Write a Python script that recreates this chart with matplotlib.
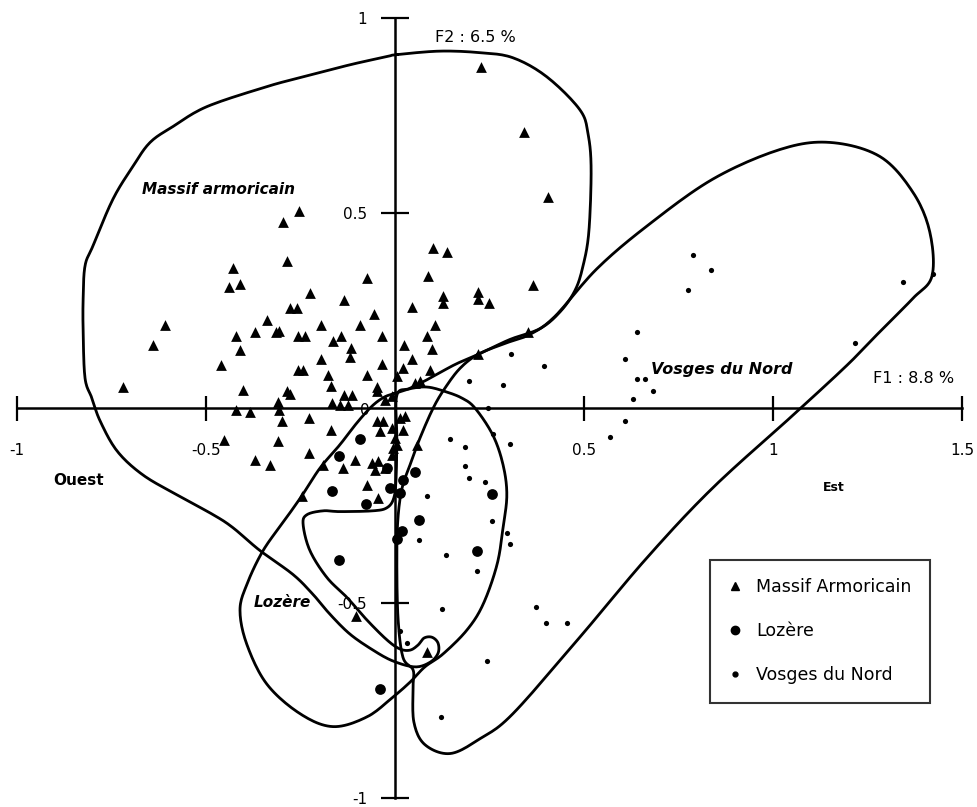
import numpy as np
import matplotlib
matplotlib.use("Agg")
import matplotlib.pyplot as plt
from matplotlib.lines import Line2D

# --- factor scores (F1, F2) ---
massif_x = [0.228, 0.341, 0.405, 0.365, 0.249, 0.220, 0.220, 0.352, 0.220, 0.101,
            0.138, 0.087, 0.127, 0.127, 0.045, 0.106, 0.085, 0.024, 0.098, 0.045,
            0.021, 0.093, 0.053, 0.066, 0.005, -0.074, -0.225, -0.135, -0.278, -0.259,
            -0.056, -0.196, -0.093, -0.034, -0.257, -0.238, -0.164, -0.143, -0.116, -0.119,
            -0.196, -0.034, -0.257, -0.243, -0.177, -0.074, -0.169, -0.048, -0.135, -0.114,
            -0.254, -0.296, -0.286, -0.429, -0.439, -0.410, -0.608, -0.339, -0.370, -0.421,
            -0.315, -0.307, -0.640, -0.410, -0.460, -0.720, -0.402, -0.286, -0.278, -0.310,
            -0.421, -0.384, -0.307, -0.299, -0.228, -0.167, -0.146, -0.124, -0.048, -0.452,
            -0.310, -0.370, -0.331, -0.228, -0.169, -0.246, -0.190, -0.138, -0.106, -0.074,
            -0.045, 0.021, -0.008, -0.040, -0.048, -0.032, -0.061, -0.045, -0.053, -0.005,
            0.005, -0.008, -0.026, 0.000, 0.026, 0.013, 0.058, -0.103, 0.085, -0.008,
            -0.026]
massif_y = [0.875, 0.707, 0.541, 0.316, 0.270, 0.298, 0.281, 0.196, 0.138, 0.411,
            0.401, 0.339, 0.288, 0.270, 0.260, 0.212, 0.184, 0.163, 0.151, 0.125,
            0.102, 0.097, 0.064, 0.069, 0.082, 0.334, 0.296, 0.276, 0.258, 0.258,
            0.242, 0.214, 0.214, 0.184, 0.186, 0.186, 0.173, 0.184, 0.153, 0.130,
            0.125, 0.112, 0.097, 0.097, 0.084, 0.084, 0.056, 0.054, 0.033, 0.033,
            0.505, 0.477, 0.378, 0.360, 0.311, 0.319, 0.212, 0.227, 0.196, 0.186,
            0.194, 0.199, 0.161, 0.148, 0.110, 0.054, 0.046, 0.043, 0.036, 0.015,
            -0.005, -0.010, -0.005, -0.033, -0.026, 0.013, 0.008, 0.008, 0.043, -0.082,
            -0.084, -0.133, -0.145, -0.115, -0.056, -0.224, -0.145, -0.153, -0.133, -0.196,
            -0.230, -0.056, -0.051, -0.059, -0.033, -0.033, -0.140, -0.135, -0.158, -0.102,
            -0.094, -0.120, -0.153, -0.077, -0.020, -0.026, -0.094, -0.533, -0.625, 0.031,
            0.020]

lozere_x = [-0.148, -0.167, -0.077, -0.093, 0.053, -0.013, 0.013, 0.063, 0.019, 0.005,
            -0.148, -0.040, 0.217, 0.257, 0.021, -0.021]
lozere_y = [-0.122, -0.212, -0.245, -0.079, -0.163, -0.204, -0.217, -0.286, -0.314, -0.334,
            -0.390, -0.719, -0.365, -0.219, -0.184, -0.153]

vosges_x = [0.146, 0.185, 0.185, 0.196, 0.238, 0.257, 0.085, 0.063, 0.135, 0.217,
            0.124, 0.032, 0.013, 0.243, 0.304, 0.246, 0.196, 0.286, 0.304, 0.373,
            0.399, 0.455, 0.307, 0.394, 0.788, 0.836, 0.775, 0.640, 0.608, 0.640,
            0.661, 0.630, 0.683, 0.608, 0.569, 0.259, 1.344, 1.217, 1.423, 0.122,
            0.296]
vosges_y = [-0.079, -0.099, -0.148, -0.179, -0.189, -0.288, -0.224, -0.337, -0.375, -0.416,
            -0.515, -0.602, -0.571, -0.648, -0.092, 0.000, 0.069, 0.059, -0.349, -0.510,
            -0.551, -0.551, 0.140, 0.107, 0.393, 0.355, 0.304, 0.196, 0.125, 0.074,
            0.074, 0.023, 0.043, -0.033, -0.074, -0.066, 0.324, 0.168, 0.344, -0.791,
            -0.319]

# --- hand-drawn envelopes (closed outlines), data units ---
env_massif = [(0.005, 0.906), (0.119, 0.915), (0.225, 0.911), (0.312, 0.898), (0.402, 0.849),
              (0.489, 0.765), (0.511, 0.702), (0.519, 0.612), (0.513, 0.452), (0.497, 0.362),
              (0.476, 0.301), (0.437, 0.247), (0.384, 0.204), (0.304, 0.176), (0.225, 0.140),
              (0.159, 0.112), (0.093, 0.077), (0.040, 0.051), (0.005, 0.033), (0.005, -0.077),
              (0.003, -0.179), (-0.003, -0.230), (-0.021, -0.255), (-0.058, -0.263),
              (-0.146, -0.265), (-0.190, -0.263), (-0.233, -0.273), (-0.243, -0.298),
              (-0.225, -0.365), (-0.180, -0.434), (-0.127, -0.485), (-0.074, -0.543),
              (-0.021, -0.594), (0.013, -0.617), (0.040, -0.620), (0.061, -0.607),
              (0.077, -0.589), (0.098, -0.587), (0.114, -0.602), (0.114, -0.628),
              (0.093, -0.651), (0.053, -0.663), (-0.005, -0.648), (-0.058, -0.620),
              (-0.119, -0.579), (-0.172, -0.528), (-0.217, -0.477), (-0.270, -0.426),
              (-0.357, -0.365), (-0.429, -0.306), (-0.481, -0.273), (-0.577, -0.222),
              (-0.667, -0.171), (-0.735, -0.110), (-0.780, -0.033), (-0.802, 0.026),
              (-0.820, 0.077), (-0.825, 0.196), (-0.825, 0.281), (-0.820, 0.365),
              (-0.799, 0.416), (-0.746, 0.536), (-0.693, 0.620), (-0.648, 0.681),
              (-0.587, 0.722), (-0.497, 0.773), (-0.339, 0.824), (-0.251, 0.847),
              (-0.119, 0.880), (-0.021, 0.901)]

env_lozere = [(0.000, 0.038), (0.045, 0.051), (0.087, 0.054), (0.132, 0.043), (0.177, 0.026),
              (0.212, 0.000), (0.259, -0.069), (0.286, -0.145), (0.296, -0.222), (0.286, -0.306),
              (0.270, -0.401), (0.233, -0.503), (0.190, -0.569), (0.127, -0.630), (0.079, -0.663),
              (0.040, -0.702), (-0.005, -0.740), (-0.074, -0.791), (-0.164, -0.816),
              (-0.251, -0.783), (-0.339, -0.707), (-0.392, -0.605), (-0.410, -0.518),
              (-0.392, -0.452), (-0.349, -0.365), (-0.291, -0.286), (-0.246, -0.224),
              (-0.198, -0.153), (-0.146, -0.094), (-0.101, -0.038), (-0.061, 0.005),
              (-0.029, 0.028)]

env_vosges = [(0.220, 0.138), (0.291, 0.166), (0.357, 0.189), (0.423, 0.235), (0.534, 0.357),
              (0.667, 0.467), (0.841, 0.587), (1.019, 0.663), (1.151, 0.681), (1.283, 0.645),
              (1.370, 0.554), (1.415, 0.452), (1.421, 0.339), (1.370, 0.281), (1.283, 0.196),
              (1.196, 0.110), (1.053, -0.018), (0.841, -0.204), (0.667, -0.383), (0.489, -0.587),
              (0.312, -0.783), (0.225, -0.847), (0.146, -0.885), (0.079, -0.862), (0.050, -0.804),
              (0.048, -0.714), (0.048, -0.671), (0.021, -0.638), (0.008, -0.536), (0.005, -0.383),
              (0.008, -0.281), (0.019, -0.204), (0.040, -0.145), (0.066, -0.077), (0.101, 0.000),
              (0.132, 0.051), (0.172, 0.102)]


def smooth_closed(pts, n=12):
    # closed Catmull-Rom through the traced outline points
    p = np.array(pts)
    out = []
    m = len(p)
    for i in range(m):
        p0, p1, p2, p3 = p[i - 1], p[i], p[(i + 1) % m], p[(i + 2) % m]
        t = np.linspace(0, 1, n, endpoint=False)[:, None]
        seg = 0.5 * ((2 * p1) + (-p0 + p2) * t + (2 * p0 - 5 * p1 + 4 * p2 - p3) * t**2
                     + (-p0 + 3 * p1 - 3 * p2 + p3) * t**3)
        out.append(seg)
    out = np.vstack(out + [out[0][:1]])
    return out[:, 0], out[:, 1]


plt.rcParams['font.family'] = ['DejaVu Sans']

fig = plt.figure(figsize=(9.77, 8.07), dpi=100)
ax = fig.add_axes([0, 0, 1, 1])
ax.set_xlim(-1.045, 1.540)
ax.set_ylim(-1.022, 1.046)

# axes through the origin
for s in ['top', 'right']:
    ax.spines[s].set_visible(False)
ax.spines['bottom'].set_position(('data', 0))
ax.spines['left'].set_position(('data', 0))
ax.spines['bottom'].set_bounds(-1, 1.5)
ax.spines['left'].set_bounds(-1, 1)
ax.spines['bottom'].set_linewidth(1.8)
ax.spines['left'].set_linewidth(1.8)
ax.set_xticks([-1, -0.5, 0.5, 1, 1.5])
ax.set_xticklabels(['-1', '-0.5', '0.5', '1', '1.5'])
ax.set_yticks([-1, -0.5, 0.5, 1])
ax.set_yticklabels(['-1', '-0.5', '0.5', '1'])
ax.tick_params(axis='x', direction='inout', length=18, width=1.6, pad=16, labelsize=11)
ax.tick_params(axis='y', direction='inout', length=20, width=1.6, pad=10, labelsize=11)
ax.text(-0.08, -0.005, '0', fontsize=11, ha='center', va='center')

for env in (env_massif, env_lozere, env_vosges):
    ex, ey = smooth_closed(env)
    ax.plot(ex, ey, color='black', linewidth=2.0, zorder=2)

ax.scatter(massif_x, massif_y, marker='^', s=60, color='black', linewidths=0, zorder=3)
ax.scatter(lozere_x, lozere_y, marker='o', s=60, color='black', linewidths=0, zorder=3)
ax.scatter(vosges_x, vosges_y, marker='o', s=14, color='black', linewidths=0, zorder=3)

# axis titles and group names
ax.text(0.106, 0.949, 'F2 : 6.5 %', fontsize=11.5, ha='left', va='center')
ax.text(1.265, 0.077, 'F1 : 8.8 %', fontsize=11.5, ha='left', va='center')
ax.text(-0.67, 0.56, 'Massif armoricain', fontsize=11, fontweight='bold',
        style='italic', ha='left', va='center')
ax.text(0.677, 0.10, 'Vosges du Nord', fontsize=11.5, fontweight='bold',
        style='italic', ha='left', va='center')
ax.text(-0.375, -0.499, 'Lozère', fontsize=11, fontweight='bold',
        style='italic', ha='left', va='center')
ax.text(-0.905, -0.186, 'Ouest', fontsize=11, fontweight='bold', ha='left', va='center')
ax.text(1.132, -0.202, 'Est', fontsize=9, fontweight='bold', ha='left', va='center')

handles = [
    Line2D([], [], linestyle='none', marker='^', markersize=6, color='black', label='Massif Armoricain'),
    Line2D([], [], linestyle='none', marker='o', markersize=6, color='black', label='Lozère'),
    Line2D([], [], linestyle='none', marker='o', markersize=3.5, color='black', label='Vosges du Nord'),
]
leg = ax.legend(handles=handles, loc='upper left', bbox_to_anchor=(0.727, 0.306),
                fontsize=12.5, frameon=True, fancybox=False, edgecolor='black',
                labelspacing=1.5, handlelength=0.8, handletextpad=0.8,
                borderpad=1.05, borderaxespad=0)
leg.get_frame().set_linewidth(1.5)

fig.savefig('out.png', dpi=100)
